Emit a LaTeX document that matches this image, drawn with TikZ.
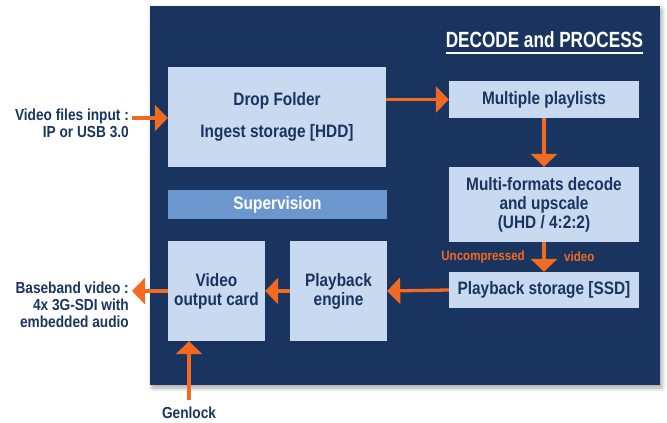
\documentclass[tikz,border=0pt]{standalone}
\usepackage{fontspec}
\setmainfont{Liberation Sans}[FakeStretch=0.855]
\newfontfamily\headfont{Liberation Sans}[FakeStretch=0.78]
\usetikzlibrary{arrows.meta,shadows.blur}
\definecolor{panelblue}{HTML}{19355F}
\definecolor{boxblue}{HTML}{C9D9EF}
\definecolor{supblue}{HTML}{6C97CE}
\definecolor{arrorange}{HTML}{F26A21}
\begin{document}
\begin{tikzpicture}[
		x=1pt,y=-1pt,
		>={Triangle[length=13pt,width=26pt]},
		flow/.style={->,draw=arrorange,fill=arrorange,line width=3.3pt},
		blk/.style={fill=boxblue,text=panelblue,align=center,inner sep=0pt,font=\fontsize{18}{19}\selectfont\bfseries},
		side/.style={text=panelblue,align=right,inner sep=0pt,font=\fontsize{16}{17}\selectfont\bfseries},
		note/.style={text=arrorange,inner sep=0pt,font=\fontsize{13.5}{15}\selectfont\bfseries}
		]
		\useasboundingbox (0,0) rectangle (667,423);
		\node[fill=panelblue,minimum width=510pt,minimum height=379pt,
			blur shadow={shadow xshift=2pt,shadow yshift=-3pt,shadow blur radius=4pt,shadow opacity=35}] (panel) at (405,195.5) {};
		\node[text=white,anchor=base,inner sep=0pt,font=\headfont\fontsize{22}{24}\selectfont\bfseries] (title) at (544.5,47) {DECODE and PROCESS};
		\draw[white,line width=1.6pt] ([yshift=-6pt]title.base west) -- ([yshift=-6pt]title.base east);
		\node[blk,minimum width=218pt,minimum height=100pt] (drop) at (277,117) {Drop Folder\\[13pt]Ingest storage [HDD]};
		\node[blk,fill=supblue,text=white,minimum width=219pt,minimum height=29pt] (super) at (277.5,204.5) {Supervision};
		\node[blk,minimum width=190pt,minimum height=37pt] (playl) at (544,99.5) {Multiple playlists};
		\node[blk,minimum width=190pt,minimum height=75pt] (decode) at (544,204.5) {Multi-formats decode\\and upscale\\(UHD / 4:2:2)};
		\node[blk,minimum width=190pt,minimum height=36pt] (store) at (544,290) {Playback storage [SSD]};
		\node[blk,minimum width=97pt,minimum height=100pt] (card) at (216.5,291) {Video\\output card};
		\node[blk,minimum width=97pt,minimum height=100pt] (engine) at (338.5,291) {Playback\\engine};
		\node[side,anchor=east] (input) at (129,123.5) {Video files input :\\IP or USB 3.0};
		\node[side,anchor=east] (output) at (129,305) {Baseband video :\\4x 3G-SDI with\\embedded audio};
		\node[side] (genlock) at (189,413) {Genlock};
		\node[note,anchor=east] (uncomp) at (525,257) {Uncompressed};
		\node[note,anchor=west] (vid) at (564,257) {video};
		\coordinate (inL) at (132,118);
		\coordinate (outL) at (132,291);
		\coordinate (genL) at (189,400);
		\draw[flow] (inL) -- (inL -| drop.west);
		\draw[flow] (playl.west -| drop.east) -- (playl.west);
		\draw[flow] (playl.south) -- (decode.north);
		\draw[flow] (decode.south) -- (store.north);
		\draw[flow] (store.west) -- (engine.east);
		\draw[flow] (engine.west) -- (card.east);
		\draw[flow] (card.west) -- (outL);
		\draw[flow] (genL) -- (genL |- card.south);
\end{tikzpicture}
\end{document}
